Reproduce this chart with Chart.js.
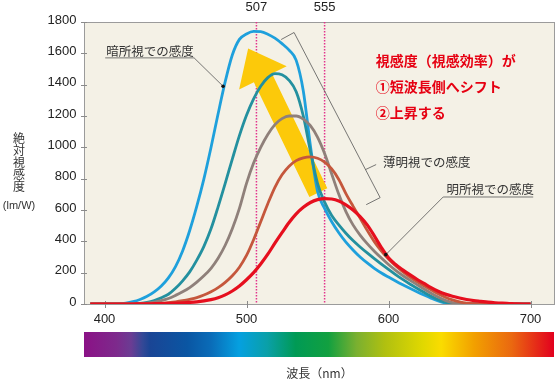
<!DOCTYPE html>
<html lang="ja">
<head>
<meta charset="utf-8">
<title>視感度</title>
<script src="https://cdn.jsdelivr.net/npm/chart.js@4.4.1/dist/chart.umd.min.js"></script>
<style>
  html, body { margin: 0; padding: 0; background: #ffffff; }
  #wrap { position: relative; width: 559px; height: 385px; }
</style>
</head>
<body>
<div id="wrap"><canvas id="chart" width="559" height="385"></canvas></div>
<script>
// 波長 (nm)
const wavelengths = [
  390, 395, 400, 405, 410, 415, 420, 425, 430, 435,
  440, 445, 450, 455, 460, 465, 470, 475, 480, 485,
  490, 495, 500, 505, 510, 515, 520, 525, 530, 535,
  540, 545, 550, 555, 560, 565, 570, 575, 580, 585,
  590, 595, 600, 605, 610, 615, 620, 625, 630, 635,
  640, 645, 650, 655, 660, 665, 670, 675, 680, 685,
  690, 695, 700
];

// 絶対視感度 (lm/W) - 暗所視 → 明所視
const scotopic = [
  0, 0, 0, 0, 1, 6, 15, 29, 49, 77,
  115, 167, 239, 339, 469, 624, 799, 999, 1214, 1419,
  1589, 1689, 1724, 1740, 1738, 1722, 1697, 1662, 1620, 1555,
  1360, 1010, 720, 610, 525, 455, 395, 345, 300, 262,
  228, 198, 172, 147, 123, 100, 78, 57, 37, 19,
  6, 0, 0, 0, 0, 0, 0, 0, 0, 0,
  0, 0, 0
];
const mesopicLow = [
  0, 0, 0, 0, 0, 0, 1, 4, 10, 22,
  40, 62, 100, 148, 205, 280, 368, 480, 620, 770,
  925, 1075, 1205, 1310, 1390, 1445, 1471, 1463, 1428, 1355,
  1200, 975, 770, 650, 565, 505, 452, 405, 364, 326,
  290, 255, 221, 188, 157, 128, 101, 75, 50, 28,
  11, 2, 0, 0, 0, 0, 0, 0, 0, 0,
  0, 0, 0
];
const mesopicMid = [
  0, 0, 0, 0, 0, 0, 0, 1, 5, 12,
  22, 35, 55, 78, 105, 140, 180, 228, 292, 375,
  480, 610, 770, 900, 1000, 1082, 1145, 1183, 1200, 1200,
  1180, 1138, 1065, 960, 830, 700, 590, 505, 440, 385,
  337, 293, 252, 215, 182, 152, 124, 96, 69, 44,
  23, 9, 2, 0, 0, 0, 0, 0, 0, 0,
  0, 0, 0
];
const mesopicHigh = [
  0, 0, 0, 0, 0, 0, 0, 0, 1, 3,
  5, 9, 14, 21, 30, 41, 57, 78, 104, 138,
  180, 235, 310, 410, 525, 640, 745, 825, 880, 915,
  933, 939, 930, 905, 862, 795, 705, 625, 548, 470,
  398, 338, 287, 244, 206, 173, 143, 116, 90, 65,
  43, 26, 14, 6, 2, 0, 0, 0, 0, 0,
  0, 0, 0
];
const photopic = [
  0, 0, 0, 0, 0, 0, 0, 1, 1, 2,
  3, 4, 5, 7, 10, 14, 20, 28, 40, 58,
  83, 115, 155, 200, 255, 318, 388, 455, 520, 575,
  617, 648, 666, 673, 670, 657, 633, 600, 558, 505,
  435, 360, 295, 252, 218, 187, 158, 131, 104, 81,
  63, 49, 38, 29, 22, 17, 12, 8, 5, 3,
  1, 0, 0
];

const yTicks = [0, 200, 400, 600, 800, 1000, 1200, 1400, 1600, 1800];
const xTicks = [400, 500, 600, 700];
const peakMarks = [507, 555];

// 上が先頭 (Chart.js は index 0 を最前面に描く)
const series = [
  { values: photopic,    color: '#e60f1e', width: 3.2 },
  { values: mesopicHigh, color: '#c5573c', width: 2.8 },
  { values: mesopicMid,  color: '#8f807a', width: 2.8 },
  { values: mesopicLow,  color: '#23909f', width: 2.8 },
  { values: scotopic,    color: '#1ea0dc', width: 2.8 }
];

// 注記 (データ座標: 波長, 視感度)
const shiftArrow = [
  [501.15, 1631], [528.3, 1517], [517.9, 1471], [556.9, 739],
  [544.3, 683], [505.2, 1415], [494.8, 1369]
];
const scotopicLeader = [[400.5, 1571], [463.1, 1571], [483.5, 1390]];
const mesopicBracket = [[524.4, 1688], [533.5, 1733], [594.1, 679], [584.3, 634]];
const mesopicLeader = [[583.8, 858], [591.3, 890]];
const photopicLeader = [[701.9, 683], [638.5, 683], [598.1, 315]];
const labels = [
  { text: '暗所視での感度', at: [401.2, 1613] },
  { text: '薄明視での感度', at: [596.2, 907] },
  { text: '明所視での感度', at: [640.8, 735] }
];
const message = ['視感度（視感効率）が', '①短波長側へシフト', '②上昇する'];
const messageAt = [[591.1, 1554], [591.1, 1390], [591.1, 1224]];

const spectrumStops = [
  [0.00, '#8b1286'], [0.07, '#7d2a8c'], [0.10, '#6b3c93'], [0.125, '#334896'],
  [0.14, '#1a4595'], [0.22, '#0a56a3'], [0.27, '#0a6cb8'], [0.33, '#05a0e0'],
  [0.39, '#0aa0a8'], [0.45, '#009a55'], [0.52, '#12a040'], [0.58, '#7ab030'],
  [0.64, '#b0c010'], [0.72, '#e0d800'], [0.76, '#fadc00'], [0.83, '#f2a000'],
  [0.91, '#ea6810'], [1.00, '#e2001e']
];

const JP = '"Noto Sans CJK JP", "Noto Sans", sans-serif';
const NUM = '"Liberation Sans", Arial, sans-serif';

function polyline(ctx, chart, pts) {
  const { x, y } = chart.scales;
  ctx.beginPath();
  pts.forEach(([l, v], i) => {
    const px = x.getPixelForValue(l), py = y.getPixelForValue(v);
    if (i === 0) ctx.moveTo(px, py); else ctx.lineTo(px, py);
  });
}

const decor = {
  id: 'decor',
  beforeDraw(chart) {
    const { ctx, chartArea: a } = chart;
    ctx.save();
    ctx.fillStyle = '#f4f1e6';
    ctx.fillRect(a.left, a.top, a.right - a.left, a.bottom - a.top);
    ctx.restore();
  },
  beforeDatasetsDraw(chart) {
    const { ctx, chartArea: a, scales: { x, y } } = chart;
    ctx.save();
    // 枠
    ctx.strokeStyle = '#9b9b9b';
    ctx.lineWidth = 1;
    ctx.strokeRect(a.left + 0.5, a.top + 0.5, a.right - a.left - 1, a.bottom - a.top);
    // 目盛り
    ctx.strokeStyle = '#8a8a8a';
    ctx.beginPath();
    yTicks.forEach(v => {
      const py = Math.round(y.getPixelForValue(v)) + 0.5;
      ctx.moveTo(a.left - 3, py); ctx.lineTo(a.left + 3, py);
    });
    xTicks.forEach(v => {
      const px = Math.round(x.getPixelForValue(v)) + 0.5;
      ctx.moveTo(px, a.bottom - 3); ctx.lineTo(px, a.bottom + 4);
    });
    ctx.stroke();
    // ピーク波長の点線
    ctx.strokeStyle = '#e2348c';
    ctx.lineWidth = 1.5;
    ctx.setLineDash([1.5, 1.5]);
    peakMarks.forEach(v => {
      const px = x.getPixelForValue(v);
      ctx.beginPath(); ctx.moveTo(px, a.top); ctx.lineTo(px, a.bottom); ctx.stroke();
    });
    ctx.setLineDash([]);
    // 黄色の矢印
    ctx.fillStyle = '#fcc90a';
    polyline(ctx, chart, shiftArrow);
    ctx.closePath();
    ctx.fill();
    ctx.restore();
  },
  afterDraw(chart) {
    const { ctx, chartArea: a, scales: { x, y } } = chart;
    ctx.save();
    // 引き出し線
    ctx.strokeStyle = '#555';
    ctx.lineWidth = 0.8;
    [scotopicLeader, mesopicBracket, mesopicLeader, photopicLeader].forEach(p => {
      polyline(ctx, chart, p); ctx.stroke();
    });
    ctx.fillStyle = '#111';
    [scotopicLeader[2], photopicLeader[2]].forEach(([l, v]) => {
      ctx.beginPath();
      ctx.arc(x.getPixelForValue(l), y.getPixelForValue(v), 1.8, 0, Math.PI * 2);
      ctx.fill();
    });
    // ラベル
    ctx.fillStyle = '#333';
    ctx.font = '12.5px ' + JP;
    ctx.textAlign = 'left';
    ctx.textBaseline = 'middle';
    labels.forEach(({ text, at }) => {
      ctx.fillText(text, x.getPixelForValue(at[0]), y.getPixelForValue(at[1]));
    });
    // 赤い説明文
    ctx.fillStyle = '#e60012';
    ctx.font = 'bold 14px ' + JP;
    message.forEach((t, i) => {
      ctx.fillText(t, x.getPixelForValue(messageAt[i][0]), y.getPixelForValue(messageAt[i][1]));
    });
    // ピーク波長
    ctx.fillStyle = '#222';
    ctx.font = '13px ' + NUM;
    ctx.textAlign = 'center';
    peakMarks.forEach(v => ctx.fillText(String(v), x.getPixelForValue(v), a.top - 15));
    // 軸タイトル
    ctx.fillStyle = '#333';
    ctx.font = '12px ' + JP;
    const yTitle = '絶対視感度';
    for (let i = 0; i < yTitle.length; i++) {
      ctx.fillText(yTitle[i], a.left - 65, 138 + i * 12.2);
    }
    ctx.font = '11px ' + NUM;
    ctx.fillText('(lm/W)', a.left - 65, 206);
    ctx.font = '12px ' + JP;
    ctx.fillText('波長（nm）', (a.left + a.right) / 2, 373);
    // スペクトルの帯
    const g = ctx.createLinearGradient(a.left, 0, a.right - 1, 0);
    spectrumStops.forEach(([o, c]) => g.addColorStop(o, c));
    ctx.fillStyle = g;
    ctx.fillRect(a.left, a.bottom + 28, a.right - a.left - 1, 25);
    ctx.restore();
  }
};

const ctx = document.getElementById('chart').getContext('2d');
new Chart(ctx, {
  type: 'line',
  data: {
    datasets: series.map(s => ({
      data: wavelengths.map((w, i) => ({ x: w, y: s.values[i] })),
      borderColor: s.color,
      borderWidth: s.width,
      pointRadius: 0,
      fill: false,
      cubicInterpolationMode: 'monotone'
    }))
  },
  options: {
    responsive: false,
    animation: false,
    devicePixelRatio: 1,
    events: [],
    layout: { padding: { top: 22, right: 4, left: 0, bottom: 0 } },
    plugins: { legend: { display: false }, tooltip: { enabled: false } },
    scales: {
      x: {
        type: 'linear',
        min: 385.56,
        max: 717.25,
        grid: { display: false, drawTicks: false },
        border: { display: false },
        afterBuildTicks: scale => { scale.ticks = xTicks.map(v => ({ value: v })); },
        afterFit: scale => { scale.height = 81; },
        ticks: {
          padding: 8,
          color: '#222',
          font: { family: NUM, size: 13 },
          maxRotation: 0,
          callback: v => String(v)
        }
      },
      y: {
        min: 0,
        max: 1800,
        grid: { display: false, drawTicks: false },
        border: { display: false },
        afterBuildTicks: scale => { scale.ticks = yTicks.map(v => ({ value: v })); },
        afterFit: scale => { scale.width = 84; },
        ticks: {
          padding: 7.5,
          labelOffset: -2,
          color: '#222',
          font: { family: NUM, size: 13 },
          callback: v => String(v)
        }
      }
    }
  },
  plugins: [decor]
});
</script>
</body>
</html>
